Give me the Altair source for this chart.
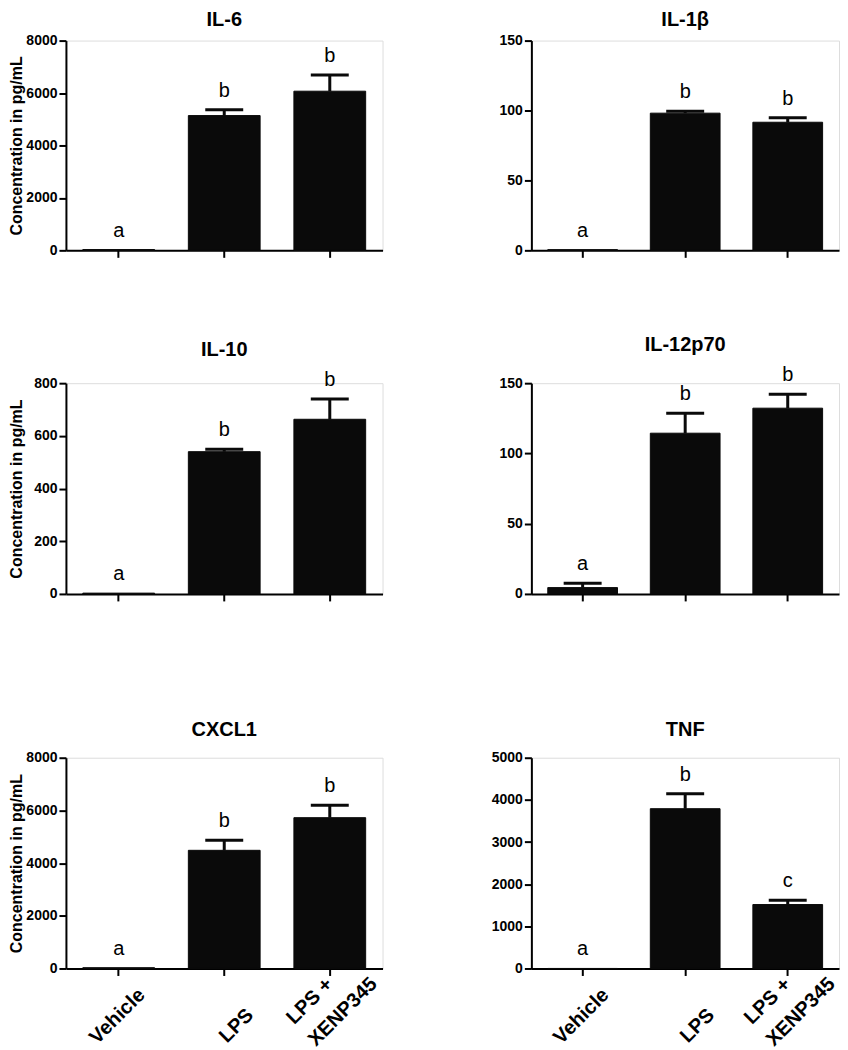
import altair as alt
import pandas as pd

groups = ["Vehicle", "LPS", "LPS + XENP345"]

il6_mean = [30, 5140, 6070]
il6_sem = [0, 220, 620]
il6_letters = ["a", "b", "b"]
il6_ticks = [0, 2000, 4000, 6000, 8000]

il1b_mean = [0.5, 98.1, 91.6]
il1b_sem = [0, 1.4, 3.2]
il1b_letters = ["a", "b", "b"]
il1b_ticks = [0, 50, 100, 150]

il10_mean = [3, 540, 663]
il10_sem = [0, 9, 77]
il10_letters = ["a", "b", "b"]
il10_ticks = [0, 200, 400, 600, 800]

il12_mean = [4.5, 114.4, 132.2]
il12_sem = [3.1, 14.2, 10.0]
il12_letters = ["a", "b", "b"]
il12_ticks = [0, 50, 100, 150]

cxcl1_mean = [30, 4485, 5725]
cxcl1_sem = [0, 380, 467]
cxcl1_letters = ["a", "b", "b"]
cxcl1_ticks = [0, 2000, 4000, 6000, 8000]

tnf_mean = [0, 3791, 1517]
tnf_sem = [0, 356, 102]
tnf_letters = ["a", "b", "c"]
tnf_ticks = [0, 1000, 2000, 3000, 4000, 5000]

FONT = "Liberation Sans"
INK = "#0a0a0a"
IS_MULTI = "datum.value == 'LPS + XENP345'"
IS_VEH = "datum.value == 'Vehicle'"


def panel(title, mean, sem, letters, ticks, ytitle, xlabels, width, height, toffset):
    df = pd.DataFrame({"group": groups, "mean": mean, "sem": sem, "letter": letters})
    df["upper"] = df["mean"] + df["sem"]
    base = alt.Chart(df)

    if xlabels:
        xaxis = alt.Axis(
            title=None, labelAngle=-45, labelFont=FONT, labelFontSize=20,
            labelFontWeight="bold", labelColor="black", labelBaseline="top",
            labelAlign={"condition": {"test": IS_MULTI, "value": "left"}, "value": "right"},
            labelLineHeight=31,
            labelExpr=IS_MULTI + " ? ['LPS +', 'XENP345'] : datum.label",
            labelOffset={"condition": [{"test": IS_VEH, "value": 16},
                                       {"test": IS_MULTI, "value": -47}], "value": 19},
            labelPadding={"condition": [{"test": IS_VEH, "value": 9},
                                        {"test": IS_MULTI, "value": 38}], "value": 29},
            tickSize=7, tickWidth=2, tickColor="black", domainWidth=2, domainColor="black",
            labelOverlap=False, labelBound=False,
        )
    else:
        xaxis = alt.Axis(title=None, labels=False, tickSize=7, tickWidth=2, tickColor="black",
                         domainWidth=2, domainColor="black")

    yaxis = alt.Axis(
        values=ticks, format="d", title="Concentration in pg/mL" if ytitle else None,
        titleFont=FONT, titleFontSize=16, titleFontWeight="bold", titleColor="black",
        titlePadding=0, labelFont=FONT, labelFontSize=14, labelFontWeight="bold",
        labelColor="black", labelPadding=2, tickSize=7, tickWidth=2, tickColor="black",
        domainWidth=2, domainColor="black", grid=False, minExtent=41, maxExtent=41,
        labelOverlap=False, labelFlush=False,
    )

    x = alt.X("group:N", sort=groups, axis=xaxis,
              scale=alt.Scale(paddingInner=0.32, paddingOuter=0.16))
    yscale = alt.Scale(domain=[0, ticks[-1]], nice=False, zero=True)

    bars = base.mark_bar(color=INK, stroke=INK, strokeWidth=1).encode(
        x=x, y=alt.Y("mean:Q", scale=yscale, axis=yaxis))
    errf = base.transform_filter("datum.sem > 0")
    rule = errf.mark_rule(color=INK, strokeWidth=3).encode(
        x=x, y=alt.Y("mean:Q", scale=yscale, axis=yaxis), y2="upper:Q")
    cap = errf.mark_tick(color=INK, size=38, thickness=3, orient="horizontal", opacity=1).encode(
        x=x, y=alt.Y("upper:Q", scale=yscale, axis=yaxis))
    txt = base.mark_text(font=FONT, fontSize=20, color="black", dy=-13,
                         baseline="alphabetic", align="center").encode(
        x=x, y=alt.Y("upper:Q", scale=yscale, axis=yaxis), text="letter:N")

    return alt.layer(bars, rule, cap, txt).properties(
        width=width, height=height,
        title=alt.TitleParams(title, font=FONT, fontSize=20, fontWeight="bold", color="black",
                              frame="group", anchor="middle", offset=toffset),
    )


LW, RW, HS = 317, 308, 106

row1 = alt.hconcat(
    panel("IL-6", il6_mean, il6_sem, il6_letters, il6_ticks, True, False, LW, 210, 4),
    panel("IL-1β", il1b_mean, il1b_sem, il1b_letters, il1b_ticks, False, False, RW, 210, 4),
    spacing=HS,
)
row2 = alt.hconcat(
    panel("IL-10", il10_mean, il10_sem, il10_letters, il10_ticks, True, False, LW, 211, 10),
    panel("IL-12p70", il12_mean, il12_sem, il12_letters, il12_ticks, False, False, RW, 211, 10),
    spacing=HS,
)
row3 = alt.hconcat(
    panel("CXCL1", cxcl1_mean, cxcl1_sem, cxcl1_letters, cxcl1_ticks, True, True, LW, 211, 11),
    panel("TNF", tnf_mean, tnf_sem, tnf_letters, tnf_ticks, False, True, RW, 211, 11),
    spacing=HS,
)

chart = alt.vconcat(
    row1, alt.vconcat(row2, row3, spacing=116), spacing=75
).properties(
    padding={"left": 0, "top": 0, "right": 0, "bottom": 0}
).configure_view(stroke=None).configure(background="white")

chart.save("out.html", embed_options={"renderer": "svg", "actions": False})
